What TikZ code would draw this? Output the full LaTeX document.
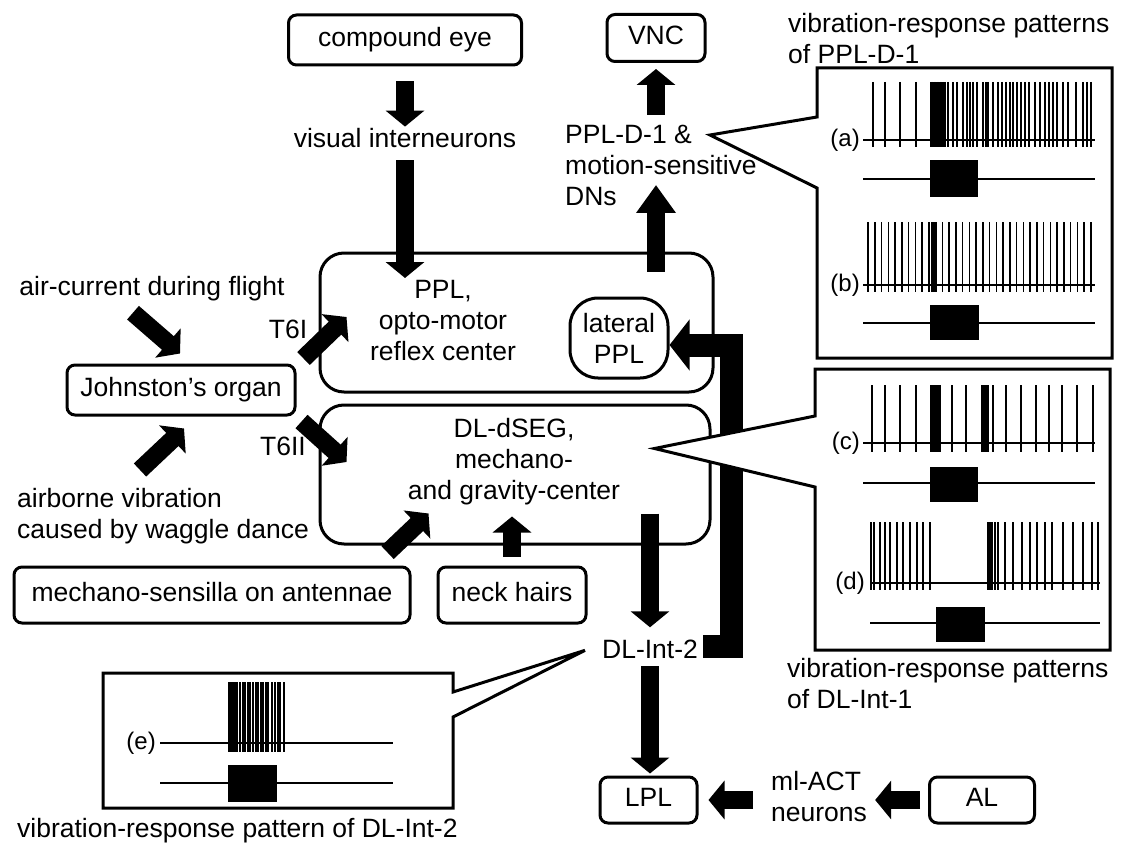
\documentclass[tikz,border=0pt]{standalone}
\usepackage{fontspec}
\setmainfont{Liberation Sans}
\usetikzlibrary{arrows.meta,calc}
\newcommand{\sw}{1.5pt}

\tikzset{
  bx/.style={draw,line width=3pt,rounded corners=8pt,inner sep=0pt,text height=19pt,text depth=5.5pt},
  area/.style={draw,line width=3pt,rounded corners=24pt,inner sep=0pt},
  txt/.style={inner sep=2pt},
  blk/.style={line width=18pt,-{Triangle[length=16pt,width=38pt]}},
  callout/.style={draw,line width=3pt,fill=white,line join=miter},
  trace/.style={line width=\sw},
  lbl/.style={font=\fontsize{24}{28}\selectfont,anchor=east,inner sep=1pt},
}

\begin{document}
\begin{tikzpicture}[x=1pt,y=-1pt,font=\fontsize{26.5}{31}\selectfont]
\useasboundingbox (0,0) rectangle (1122,848);

\node[area,minimum width=393pt,minimum height=139pt] (ppl) at (516.5,322.5) {};
\node[area,minimum width=390pt,minimum height=139pt] (dlseg) at (515,474.5) {};
\node[txt,align=center,anchor=north] (ppltext) at (443,278) {PPL,\\opto-motor\\reflex center};
\node[txt,align=center,anchor=north] (dlsegtext) at (514,416) {DL-dSEG,\\mechano-\\and gravity-center};
\node[draw,line width=3pt,rounded corners=28pt,minimum width=98pt,minimum height=80pt,align=center,inner sep=0pt] (latppl) at (619,338) {lateral\\PPL};

\node[bx,minimum width=233pt,minimum height=50pt] (eye) at (405,40) {compound eye};
\node[bx,minimum width=98pt,minimum height=47pt] (vnc) at (656,38) {VNC};
\node[txt,anchor=base] (visint) at (405,148) {visual interneurons};
\node[txt,align=left,anchor=north west] (ppld) at (563,123) {PPL-D-1 \&\\motion-sensitive\\DNs};
\node[bx,minimum width=228pt,minimum height=50pt] (johnston) at (181,390) {Johnston's organ};
\node[txt,anchor=base] (aircur) at (152,295) {air-current during flight};
\node[txt,align=left,anchor=north west] (airborne) at (15,486) {airborne vibration\\caused by waggle dance};
\node[txt,anchor=base] (t6i) at (288,338) {T6I};
\node[txt,anchor=base] (t6ii) at (283,455) {T6II};
\node[bx,minimum width=396pt,minimum height=56pt] (mechano) at (212,595) {mechano-sensilla on antennae};
\node[bx,minimum width=148pt,minimum height=56pt] (neck) at (512,595) {neck hairs};
\node[txt,anchor=base] (dlint2) at (650,658) {DL-Int-2};
\node[bx,minimum width=97pt,minimum height=46pt] (lpl) at (648.5,800) {LPL};
\node[txt,align=left,anchor=north west] (mlact) at (769,769) {ml-ACT\\neurons};
\node[bx,minimum width=105pt,minimum height=46pt] (al) at (982,800) {AL};

\draw[blk,shorten <=15pt] (eye.south) -- (eye.south |- visint.north);
\draw[blk,shorten <=10pt] (visint.south) -- (visint.south |- ppltext.north);
\draw[blk,-{Triangle[length=28pt,width=38pt]}] ($(vnc.south |- ppl.north)+(0,20)$) -- ($(vnc.south |- ppld.south)+(0,-23)$);
\draw[blk] ($(vnc.south |- ppld.north)+(0,-8)$) -- ($(vnc.south)+(0,6)$);
\draw[blk] ($(aircur.south)+(-19,10)$) -- ($(johnston.north)+(-1,-10)$);
\draw[blk] ($(airborne.north west)+(125,-16)$) -- ($(johnston.south)+(3,12)$);
\draw[blk] ($(johnston.north east)+(7,-5)$) -- ($(ppl.west)+(28,-5.5)$);
\draw[blk] ($(johnston.south east)+(5,5)$) -- ($(dlseg.west)+(28,-12.5)$);
\draw[blk] ($(mechano.north east)+(-24,-13)$) -- ($(dlseg.south west)+(110,-32)$);
\draw[blk,shorten <=9pt] (neck.north) -- ($(neck.north |- dlseg.south)+(0,-29)$);
\draw[blk,shorten >=10pt] ($(dlint2.north |- dlseg.south)+(0,-32)$) -- (dlint2.north);
\draw[blk,shorten <=6pt,shorten >=2pt] (dlint2.south) -- (dlint2.south |- lpl.north);
\draw[blk,shorten <=16pt,shorten >=10pt] (mlact.west |- lpl.east) -- (lpl.east);
\draw[blk,shorten <=8pt,shorten >=6pt] (al.west) -- (al.west -| mlact.east);
\draw[blk,line width=23pt,-{Triangle[length=20pt,width=50pt]}] ($(dlint2.east)+(3,-2)$) -| ($(latppl.east)+(62,7)$) -- ($(latppl.east)+(0,7)$);

% PPL-D-1 panel
\draw[callout] (817,68) -- (1112,68) -- (1112,358) -- (817,358) -- (817,188) -- ($(ppld.north west)+(147,12)$) -- (817,117) -- cycle;
\node[txt,align=left,anchor=north west] (capa) at (786,11) {vibration-response patterns\\of PPL-D-1};
\node[lbl] (la) at (861,140) {(a)};
\draw[trace] (863,140) -- (1095,140);
\foreach \x in {873,885,900,916,931,932.5,934,935.5,937,938.5,940,941.5,943,945,948,953,957,963,967,970,973,977,983,986,988,993,998,1002,1006,1010,1013,1017,1021,1025,1029,1035,1040,1045,1049,1053,1057,1063,1068,1076,1083,1087,1091}
  \draw[trace] (\x,82) -- (\x,147);
\draw[trace] (863,179) -- (1095,179);
\fill (930,160) rectangle (978,197);
\node[lbl] (lb) at (861,285) {(b)};
\draw[trace] (863,285) -- (1095,285);
\foreach \i in {0,...,33}
  \draw[trace] ({868+6.75*\i},222) -- ({868+6.75*\i},292);
\foreach \x in {932,933.5,935,936.5}
  \draw[trace] (\x,222) -- (\x,292);
\draw[trace] (863,323) -- (1095,323);
\fill (930,305) rectangle (979,340);

% DL-Int-1 panel
\draw[callout] (815,369) -- (1110,369) -- (1110,650) -- (815,650) -- (815,487) -- ($(dlseg.east)+(-57,-26)$) -- (815,416) -- cycle;
\node[txt,align=left,anchor=north west] (capc) at (785,656) {vibration-response patterns\\of DL-Int-1};
\node[lbl] (lc) at (861,443) {(c)};
\draw[trace] (863,443) -- (1095,443);
\foreach \x in {872,885,900,916,931,932.5,934,935.5,937,938.5,940,952,966,982,983.5,985,986.5,988,993,1006,1021,1036,1049,1062,1077,1093}
  \draw[trace] (\x,385) -- (\x,452);
\draw[trace] (863,483) -- (1095,483);
\fill (930,467) rectangle (978,502);
\node[lbl] (ld) at (866,583) {(d)};
\draw[trace] (870,583) -- (1100,583);
\foreach \x in {871,874,880,885,890,897,903,910,917,923,930,988,990,992,995,998,1005,1013,1022,1030,1037,1045,1052,1063,1073,1083,1092,1098}
  \draw[trace] (\x,522) -- (\x,590);
\draw[trace] (870,623) -- (1100,623);
\fill (936,607) rectangle (985,642);

% DL-Int-2 panel
\draw[callout] (103,673) -- (453,673) -- (453,692) -- ($(dlint2.west)+(-15,1.5)$) -- (453,717) -- (453,808) -- (103,808) -- cycle;
\node[txt,anchor=base west] (cape) at (15,837) {vibration-response pattern of DL-Int-2};
\node[lbl] (le) at (157,743) {(e)};
\draw[trace] (160,743) -- (393,743);
\foreach \x in {229,231,233,235,237,240,243,245,248,250,253,256,258,261,263,266,268,272,275,278,280,284}
  \draw[trace] (\x,682) -- (\x,752);
\draw[trace] (160,783) -- (393,783);
\fill (228,765) rectangle (277,802);
\end{tikzpicture}
\end{document}
